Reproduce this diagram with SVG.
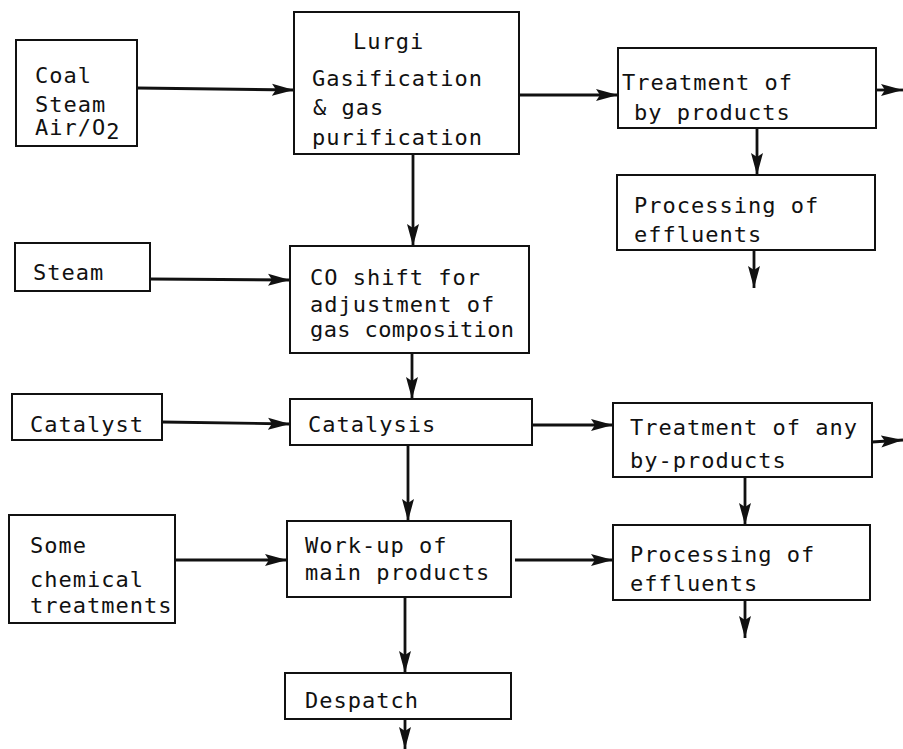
<svg xmlns="http://www.w3.org/2000/svg" width="903" height="749" viewBox="0 0 903 749">
<style>
  .box { fill: none; stroke: #111; stroke-width: 2; }
  .t { font-family: "DejaVu Sans Mono", "Liberation Mono", monospace; font-size: 22px; letter-spacing: 1px; fill: #111; }
  .c { fill: none; stroke: #111; stroke-width: 2.8; marker-end: url(#ah); }
</style>
<defs>
  <marker id="ah" markerUnits="userSpaceOnUse" markerWidth="24" markerHeight="14" refX="22" refY="7" orient="auto">
    <path d="M0,1 L22,7 L0,13 L4,7 Z" fill="#111"/>
  </marker>
</defs>
<rect width="903" height="749" fill="#fff"/>
<g id="connectors">
  <line class="c" x1="137" y1="88" x2="294" y2="90"/>
  <line class="c" x1="519" y1="95" x2="618" y2="95"/>
  <line class="c" x1="876" y1="90" x2="903" y2="90"/>
  <line class="c" x1="757" y1="128" x2="757" y2="175"/>
  <line class="c" x1="754" y1="250" x2="754" y2="288"/>
  <line class="c" x1="413" y1="154" x2="413" y2="246"/>
  <line class="c" x1="150" y1="279" x2="290" y2="280"/>
  <line class="c" x1="412" y1="353" x2="412" y2="399"/>
  <line class="c" x1="162" y1="422" x2="290" y2="424"/>
  <line class="c" x1="532" y1="425" x2="613" y2="425"/>
  <line class="c" x1="872" y1="442" x2="903" y2="440"/>
  <line class="c" x1="745" y1="477" x2="745" y2="525"/>
  <line class="c" x1="745" y1="600" x2="745" y2="638"/>
  <line class="c" x1="408" y1="445" x2="408" y2="521"/>
  <line class="c" x1="175" y1="560" x2="287" y2="560"/>
  <line class="c" x1="515" y1="560" x2="613" y2="560"/>
  <line class="c" x1="405" y1="597" x2="405" y2="673"/>
  <line class="c" x1="405" y1="719" x2="405" y2="749"/>
</g>
<g id="coal">
  <rect class="box" x="16" y="40" width="121" height="106"/>
  <text class="t" x="35" y="83">Coal</text>
  <text class="t" x="35" y="112">Steam</text>
  <text class="t" x="35" y="135">Air/O<tspan dy="4">2</tspan></text>
</g>
<g id="lurgi">
  <rect class="box" x="294" y="12" width="225" height="142"/>
  <text class="t" x="353" y="49">Lurgi</text>
  <text class="t" x="312" y="86">Gasification</text>
  <text class="t" x="313" y="115">&amp; gas</text>
  <text class="t" x="312" y="145">purification</text>
</g>
<g id="treatment1">
  <rect class="box" x="618" y="48" width="258" height="80"/>
  <text class="t" x="622" y="90">Treatment of</text>
  <text class="t" x="634" y="120">by products</text>
</g>
<g id="processing1">
  <rect class="box" x="617" y="175" width="258" height="75"/>
  <text class="t" x="634" y="213">Processing of</text>
  <text class="t" x="634" y="242">effluents</text>
</g>
<g id="steam">
  <rect class="box" x="15" y="243" width="135" height="48"/>
  <text class="t" x="33" y="280">Steam</text>
</g>
<g id="coshift">
  <rect class="box" x="290" y="246" width="239" height="107"/>
  <text class="t" x="310" y="285">CO shift for</text>
  <text class="t" x="310" y="312">adjustment of</text>
  <text class="t" x="310" y="337" textLength="205" lengthAdjust="spacing">gas composition</text>
</g>
<g id="catalyst">
  <rect class="box" x="12" y="394" width="150" height="46"/>
  <text class="t" x="30" y="432">Catalyst</text>
</g>
<g id="catalysis">
  <rect class="box" x="290" y="399" width="242" height="46"/>
  <text class="t" x="308" y="432">Catalysis</text>
</g>
<g id="treatment2">
  <rect class="box" x="613" y="403" width="259" height="74"/>
  <text class="t" x="630" y="435">Treatment of any</text>
  <text class="t" x="630" y="468">by-products</text>
</g>
<g id="processing2">
  <rect class="box" x="613" y="525" width="257" height="75"/>
  <text class="t" x="630" y="562">Processing of</text>
  <text class="t" x="630" y="591">effluents</text>
</g>
<g id="chemical">
  <rect class="box" x="9" y="515" width="166" height="108"/>
  <text class="t" x="30" y="553">Some</text>
  <text class="t" x="30" y="587">chemical</text>
  <text class="t" x="30" y="613">treatments</text>
</g>
<g id="workup">
  <rect class="box" x="287" y="521" width="224" height="76"/>
  <text class="t" x="305" y="553">Work-up of</text>
  <text class="t" x="305" y="580">main products</text>
</g>
<g id="despatch">
  <rect class="box" x="285" y="673" width="226" height="46"/>
  <text class="t" x="305" y="708">Despatch</text>
</g>
</svg>
